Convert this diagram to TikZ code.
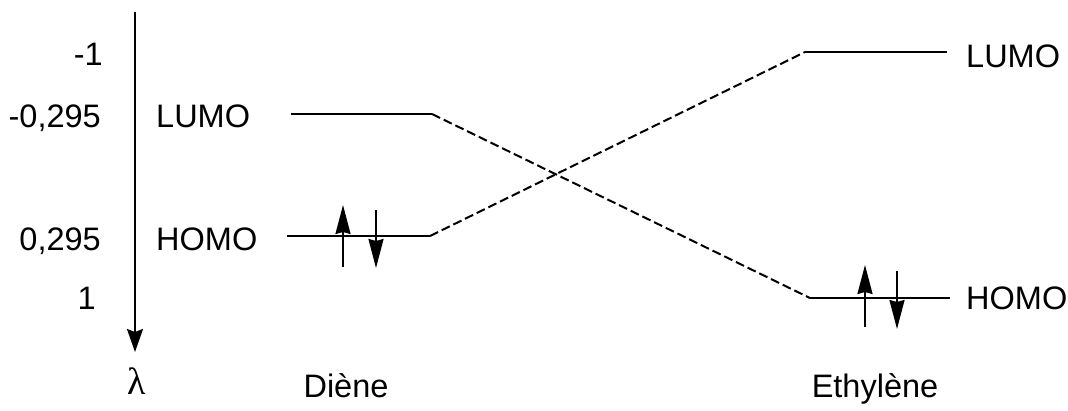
\documentclass[tikz,border=0pt]{standalone}
\usepackage{fontspec}
\setmainfont{Liberation Sans}
\newfontfamily\grkfont{Liberation Serif}
\usetikzlibrary{arrows.meta}
\begin{document}
\begin{tikzpicture}[x=1pt,y=-1pt,
  lvl/.style={line width=2pt},
  conn/.style={line width=2pt,dash pattern=on 9pt off 4pt},
  spin/.style={line width=2pt,-{Stealth[length=29pt,width=15pt,inset=2pt]}},
  axisline/.style={line width=2pt,-{Stealth[length=23pt,width=16pt,inset=3pt]}},
  lbl/.style={inner sep=0pt,font=\fontsize{32.5}{38}\selectfont}]
\useasboundingbox (0,0) rectangle (1068,410);
% axis
\coordinate (axtop) at (135,12);
\coordinate (axbot) at (135,352);
\draw[axisline] (axtop) -- (axbot);
\node[lbl,anchor=base] (lam) at (137,394) {\grkfont\fontsize{38}{40}\selectfont λ};
% axis values
\node[lbl,anchor=base east] (v1) at (103,65) {-1};
\node[lbl,anchor=base east] (v2) at (101,127) {-0,295};
\node[lbl,anchor=base east] (v3) at (101,250) {0,295};
\node[lbl,anchor=base east] (v4) at (96,309) {1};
% diene labels
\node[lbl,anchor=base west] (dl) at (156,127) {LUMO};
\node[lbl,anchor=base west] (dh) at (156,250) {HOMO};
% ethylene labels
\node[lbl,anchor=base west] (el) at (966,67) {LUMO};
\node[lbl,anchor=base west] (eh) at (966,309) {HOMO};
% bottom labels
\node[lbl,anchor=base] (dn) at (346,397) {Diène};
\node[lbl,anchor=base] (en) at (875,397) {Ethylène};
% levels
\coordinate (dLa) at (291,114); \coordinate (dLb) at (432,114);
\coordinate (dHa) at (287,236); \coordinate (dHb) at (430,236);
\coordinate (eLa) at (805,52);  \coordinate (eLb) at (947,52);
\coordinate (eHa) at (810,298); \coordinate (eHb) at (950,298);
\draw[lvl] (dLa) -- (dLb);
\draw[lvl] (dHa) -- (dHb);
\draw[lvl] (eLa) -- (eLb);
\draw[lvl] (eHa) -- (eHb);
\draw[conn] (dLb) -- (eHa);
\draw[conn] (dHb) -- (eLa);
% spins
\coordinate (s1a) at (343,267); \coordinate (s1b) at (343,205);
\coordinate (s2a) at (376,210); \coordinate (s2b) at (376,268);
\coordinate (s3a) at (865,327); \coordinate (s3b) at (865,265);
\coordinate (s4a) at (897,271); \coordinate (s4b) at (897,329);
\draw[spin] (s1a) -- (s1b);
\draw[spin] (s2a) -- (s2b);
\draw[spin] (s3a) -- (s3b);
\draw[spin] (s4a) -- (s4b);
\end{tikzpicture}
\end{document}
